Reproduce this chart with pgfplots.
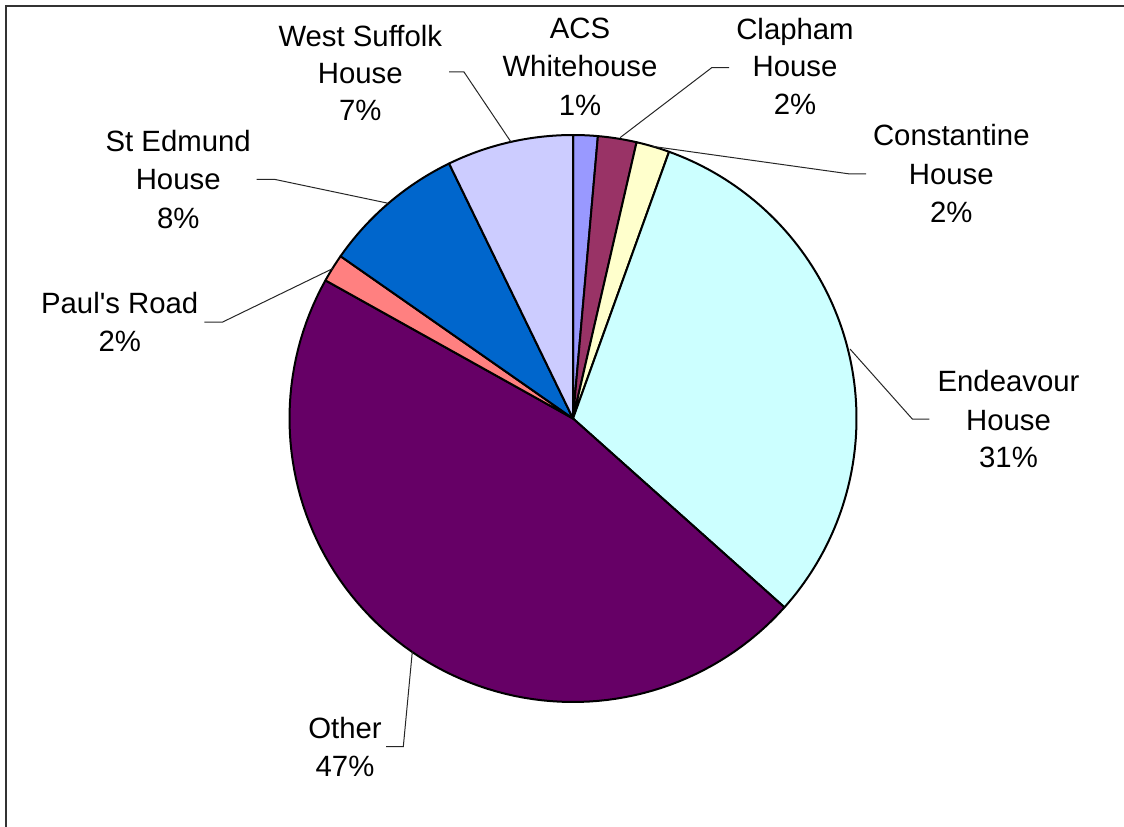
\documentclass[border=0pt]{standalone}
\usepackage{fontspec}
\setmainfont{Liberation Sans}
\usepackage{pgfplots}
\pgfplotsset{compat=1.18}
\definecolor{cA}{HTML}{9999FF}
\definecolor{cB}{HTML}{993366}
\definecolor{cC}{HTML}{FFFFCC}
\definecolor{cD}{HTML}{CCFFFF}
\definecolor{cE}{HTML}{660066}
\definecolor{cF}{HTML}{FF8080}
\definecolor{cG}{HTML}{0066CC}
\definecolor{cH}{HTML}{CCCCFF}
% slice shares (percent), clockwise from 12 o'clock
\def\slices{1.4/cA,2.2/cB,1.9/cC,31.1/cD,46.5/cE,1.6/cF,8.1/cG,7.2/cH}
\newcommand\lab[3]{\node[anchor=base,font=\fontsize{22}{26}\selectfont,inner sep=0pt] at (axis cs:#1,#2) {#3};}
\begin{document}
\begin{tikzpicture}
\useasboundingbox (0,0) rectangle (843pt,620.25pt);
\begin{axis}[
  at={(0,0)}, anchor=south west,
  scale only axis, width=843pt, height=620.25pt,
  xmin=0, xmax=1124, ymin=0, ymax=827, y dir=reverse,
  hide axis, clip=false]
\gdef\cum{0}
\foreach \p/\c in \slices {
  \pgfmathsetmacro\a{\cum*3.6}
  \pgfmathsetmacro\b{(\cum+\p)*3.6}
  \edef\tmp{\noexpand\addplot[draw=black, line width=1.5pt, line join=round, fill=\c, domain=\a:\b, samples=90, variable=\noexpand\t] ({573+283.5*sin(\noexpand\t)},{418.5-283.5*cos(\noexpand\t)}) -- (axis cs:573,418.5) -- cycle;}
  \tmp
  \pgfmathsetmacro\n{\cum+\p}\xdef\cum{\n}
}
% frame (top and left edges visible)
\draw[line width=1.5pt, black!80] (axis cs:6,830) -- (axis cs:6,6) -- (axis cs:1130,6);
% leader lines
\begin{scope}[line width=0.75pt, black!85]
\draw (axis cs:449,72) -- (axis cs:464,72) -- (axis cs:511,142);
\draw (axis cs:729,67.7) -- (axis cs:711.7,67.7) -- (axis cs:620,137.7);
\draw (axis cs:652.6,146.4) -- (axis cs:850,174) -- (axis cs:866,174);
\draw (axis cs:850,349) -- (axis cs:912.3,419) -- (axis cs:929.3,419);
\draw (axis cs:256.7,179.3) -- (axis cs:274.3,179.3) -- (axis cs:388.3,203.3);
\draw (axis cs:204.3,322) -- (axis cs:222.7,322) -- (axis cs:333.3,268.3);
\draw (axis cs:386,746.7) -- (axis cs:403.3,746.7) -- (axis cs:412.3,651.7);
\end{scope}
% labels
\lab{360.3}{46.7}{West Suffolk}
\lab{360.3}{84}{House}
\lab{360.3}{121}{7\%}
\lab{580}{38.3}{ACS}
\lab{580}{76.7}{Whitehouse}
\lab{580}{116}{1\%}
\lab{795}{39.5}{Clapham}
\lab{795}{77}{House}
\lab{795}{115}{2\%}
\lab{951.3}{145.7}{Constantine}
\lab{951.3}{185}{House}
\lab{951.3}{222.7}{2\%}
\lab{1008.5}{391}{Endeavour}
\lab{1008.5}{430}{House}
\lab{1008.5}{467.7}{31\%}
\lab{178.2}{151.7}{St Edmund}
\lab{178.2}{190}{House}
\lab{178.2}{228.3}{8\%}
\lab{119.7}{313.3}{Paul\textquotesingle s Road}
\lab{119.7}{351}{2\%}
\lab{345}{738.3}{Other}
\lab{345}{776.7}{47\%}
\end{axis}
\end{tikzpicture}
\end{document}
